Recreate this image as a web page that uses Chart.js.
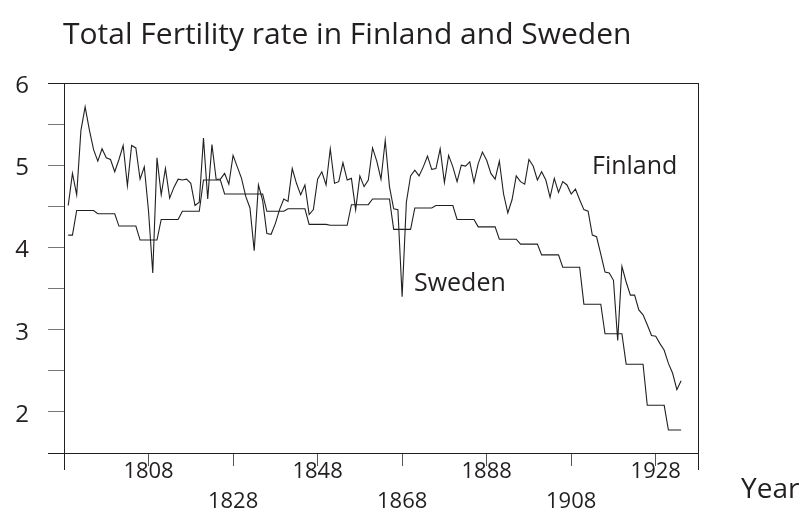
<!DOCTYPE html>
<html><head><meta charset="utf-8">
<script src="https://cdn.jsdelivr.net/npm/chart.js@4/dist/chart.umd.min.js"></script>
<style>html,body{margin:0;padding:0;background:#fff;}#wrap{width:806px;height:522px;}</style>
</head><body><div id="wrap"><canvas id="c" width="806" height="522" style="width:806px;height:522px"></canvas></div>
<script>
const years = [1789,1790,1791,1792,1793,1794,1795,1796,1797,1798,
1799,1800,1801,1802,1803,1804,1805,1806,1807,1808,
1809,1810,1811,1812,1813,1814,1815,1816,1817,1818,
1819,1820,1821,1822,1823,1824,1825,1826,1827,1828,
1829,1830,1831,1832,1833,1834,1835,1836,1837,1838,
1839,1840,1841,1842,1843,1844,1845,1846,1847,1848,
1849,1850,1851,1852,1853,1854,1855,1856,1857,1858,
1859,1860,1861,1862,1863,1864,1865,1866,1867,1868,
1869,1870,1871,1872,1873,1874,1875,1876,1877,1878,
1879,1880,1881,1882,1883,1884,1885,1886,1887,1888,
1889,1890,1891,1892,1893,1894,1895,1896,1897,1898,
1899,1900,1901,1902,1903,1904,1905,1906,1907,1908,
1909,1910,1911,1912,1913,1914,1915,1916,1917,1918,
1919,1920,1921,1922,1923,1924,1925,1926,1927,1928,
1929,1930,1931,1932,1933,1934];

const finland = [4.51,4.90,4.64,5.42,5.71,5.43,5.19,5.05,5.20,5.09,
5.07,4.92,5.07,5.24,4.75,5.24,5.21,4.83,4.98,4.44,
3.69,5.09,4.64,4.96,4.60,4.73,4.83,4.82,4.83,4.78,
4.51,4.55,5.33,4.59,5.25,4.83,4.83,4.90,4.77,5.12,
4.98,4.84,4.62,4.48,3.96,4.76,4.57,4.17,4.16,4.29,
4.46,4.59,4.56,4.96,4.78,4.64,4.76,4.40,4.46,4.83,
4.92,4.76,5.20,4.78,4.80,5.03,4.82,4.84,4.46,4.87,
4.74,4.82,5.21,5.05,4.83,5.30,4.74,4.47,4.46,3.40,
4.55,4.87,4.94,4.87,4.98,5.11,4.95,4.96,5.20,4.79,
5.12,4.98,4.80,5.00,4.99,5.04,4.79,5.02,5.16,5.06,
4.90,4.83,5.05,4.65,4.42,4.58,4.87,4.80,4.77,5.07,
4.99,4.82,4.92,4.82,4.61,4.84,4.67,4.80,4.76,4.65,
4.71,4.58,4.46,4.44,4.15,4.13,3.92,3.70,3.69,3.60,
2.87,3.77,3.58,3.42,3.42,3.24,3.18,3.06,2.93,2.92,
2.83,2.75,2.59,2.47,2.27,2.38];

const sweden = [4.15,4.15,4.45,4.45,4.45,4.45,4.45,4.41,4.41,4.41,
4.41,4.41,4.26,4.26,4.26,4.26,4.26,4.09,4.09,4.09,
4.09,4.09,4.34,4.34,4.34,4.34,4.34,4.44,4.44,4.44,
4.44,4.44,4.82,4.82,4.82,4.82,4.82,4.65,4.65,4.65,
4.65,4.65,4.65,4.65,4.65,4.65,4.65,4.44,4.44,4.44,
4.44,4.44,4.47,4.47,4.47,4.47,4.47,4.28,4.28,4.28,
4.28,4.28,4.27,4.27,4.27,4.27,4.27,4.52,4.52,4.52,
4.52,4.52,4.59,4.59,4.59,4.59,4.59,4.22,4.22,4.22,
4.22,4.22,4.48,4.48,4.48,4.48,4.48,4.51,4.51,4.51,
4.51,4.51,4.34,4.34,4.34,4.34,4.34,4.25,4.25,4.25,
4.25,4.25,4.10,4.10,4.10,4.10,4.10,4.04,4.04,4.04,
4.04,4.04,3.91,3.91,3.91,3.91,3.91,3.76,3.76,3.76,
3.76,3.76,3.31,3.31,3.31,3.31,3.31,2.95,2.95,2.95,
2.95,2.95,2.58,2.58,2.58,2.58,2.58,2.08,2.08,2.08,
2.08,2.08,1.78,1.78,1.78,1.78];

const xTickYears = [1808,1828,1848,1868,1888,1908,1928];
const lowerRowYears = [1828,1868,1908];
const yTicks = [1.5,2,2.5,3,3.5,4,4.5,5,5.5,6];

const TITLE = 'Total Fertility rate in Finland and Sweden';
const X_TITLE = 'Year';
const FONT = '"Open Sans", "Noto Sans", sans-serif';
const INK = '#231f20';

const deco = {
  id: 'deco',
  afterDraw(chart) {
    const {ctx, chartArea: a} = chart;
    ctx.save();
    ctx.strokeStyle = INK;
    ctx.lineWidth = 1;
    ctx.beginPath();
    ctx.moveTo(a.left - 16, Math.round(a.top) + 0.5); ctx.lineTo(a.right, Math.round(a.top) + 0.5);
    ctx.moveTo(Math.round(a.right) + 0.5, a.top); ctx.lineTo(Math.round(a.right) + 0.5, a.bottom + 17);
    ctx.moveTo(Math.round(a.left) + 0.5, a.top); ctx.lineTo(Math.round(a.left) + 0.5, a.bottom + 17);
    ctx.moveTo(a.left - 16, Math.round(a.bottom) + 0.5); ctx.lineTo(a.right, Math.round(a.bottom) + 0.5);
    ctx.stroke();
    ctx.fillStyle = INK;
    ctx.textBaseline = 'middle';
    ctx.textAlign = 'left';
    ctx.font = '30px ' + FONT;
    ctx.fillText(TITLE, 63, 35);
    ctx.font = '28px ' + FONT;
    ctx.fillText(X_TITLE, 741, 490);
    ctx.font = '25px ' + FONT;
    ctx.fillText('Finland', 592, 167);
    ctx.fillText('Sweden', 414, 284);
    ctx.restore();
  }
};

const toPts = arr => years.map((yr, i) => ({x: yr, y: arr[i]}));

new Chart(document.getElementById('c'), {
  type: 'line',
  data: {
    datasets: [
      {label: 'Finland', data: toPts(finland), borderColor: INK, borderWidth: 1.1, pointRadius: 0, tension: 0, fill: false},
      {label: 'Sweden', data: toPts(sweden), borderColor: INK, borderWidth: 1.1, pointRadius: 0, tension: 0, fill: false}
    ]
  },
  options: {
    responsive: false,
    animation: false,
    devicePixelRatio: 1,
    layout: {padding: {top: 83, right: 108, left: 0, bottom: 0}},
    plugins: {legend: {display: false}, tooltip: {enabled: false}, title: {display: false}},
    scales: {
      x: {
        type: 'linear', min: 1788, max: 1938,
        afterBuildTicks: s => { s.ticks = xTickYears.map(v => ({value: v})); },
        afterFit: s => { s.height = 69; },
        ticks: {
          autoSkip: false, maxRotation: 0, padding: -9, color: INK,
          font: {family: FONT, size: 22, lineHeight: 1.36},
          callback: v => lowerRowYears.includes(v) ? ['', String(v)] : String(v)
        },
        grid: {drawOnChartArea: false, drawTicks: true, tickLength: 13, color: '#555', lineWidth: 1},
        border: {display: false}
      },
      y: {
        min: 1.5, max: 6,
        afterBuildTicks: s => { s.ticks = yTicks.map(v => ({value: v})); },
        afterFit: s => { s.width = 64; },
        ticks: {
          padding: 19, color: INK, labelOffset: 3,
          font: {family: FONT, size: 24},
          callback: v => (Number.isInteger(v) && v >= 2) ? String(v) : ''
        },
        grid: {drawOnChartArea: false, drawTicks: true, tickLength: 16, color: '#777', lineWidth: 1},
        border: {display: false}
      }
    }
  },
  plugins: [deco]
});
</script>
</body></html>
